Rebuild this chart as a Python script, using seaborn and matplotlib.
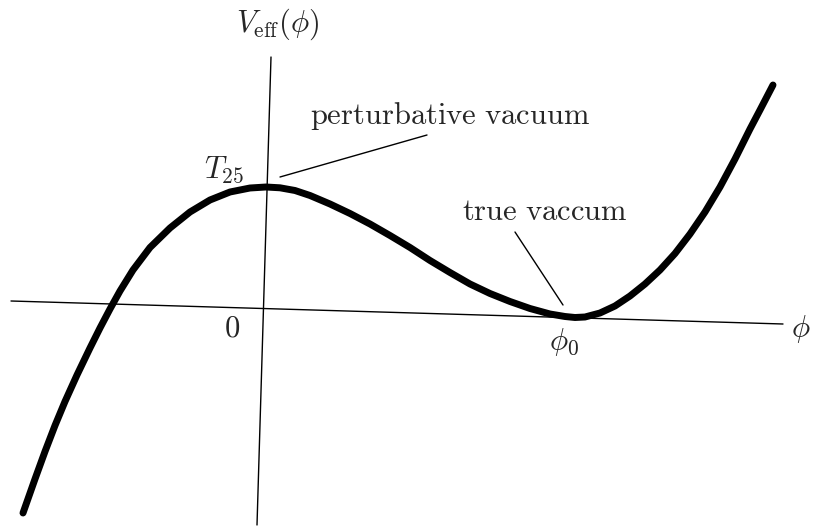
import matplotlib
matplotlib.use("Agg")
import matplotlib.pyplot as plt
import seaborn as sns
import pandas as pd

# Effective potential curve, sampled in the page frame (x right, y down)
phi = [23, 35, 45, 55, 65, 77, 90, 100, 110, 120, 133, 150, 170, 190, 210, 230,
       250, 266, 280, 295, 310, 330, 350, 370, 390, 410, 430, 450, 470, 490,
       510, 530, 550, 565, 575, 585, 600, 615, 630, 645, 660, 675, 690, 705,
       720, 735, 750, 760, 773]
v_eff = [513, 479, 451.5, 425.5, 401.5, 375, 348, 328, 309, 291, 270, 247.5, 228,
         212, 200, 192, 188, 187, 187.8, 190.5, 195.5, 204, 213.5, 224, 235.5,
         247.5, 260.5, 272.5, 284, 293.5, 301.5, 308.5, 314, 316.5, 317.5, 317,
         313, 306, 296, 284, 270, 253.5, 234, 212, 187, 159, 129, 110, 85]

# Coordinate axes (end points)
phi_axis_x = [11, 783]
phi_axis_y = [301, 324]
v_axis_x = [271, 257]
v_axis_y = [57, 525]

# Annotation leader lines
lead_pert_x = [280, 427]
lead_pert_y = [177, 135]
lead_true_x = [515, 563]
lead_true_y = [232, 305]

sns.set_style("white")
plt.rcParams["mathtext.fontset"] = "cm"

fig = plt.figure(figsize=(8.14, 5.26), dpi=100)
ax = fig.add_axes([0, 0, 1, 1])

ax.plot(phi_axis_x, phi_axis_y, color="black", lw=1.0)
ax.plot(v_axis_x, v_axis_y, color="black", lw=1.0)
ax.plot(lead_pert_x, lead_pert_y, color="black", lw=1.0)
ax.plot(lead_true_x, lead_true_y, color="black", lw=1.0)

curve = pd.DataFrame({"phi": phi, "V": v_eff})
sns.lineplot(data=curve, x="phi", y="V", sort=False, estimator=None,
             color="black", lw=5.0, ax=ax,
             solid_capstyle="round", solid_joinstyle="round")
ax.set_xlim(0, 814)
ax.set_ylim(526, 0)
ax.axis("off")

fs = 22
ax.text(278, 24, r"$V_{\mathrm{eff}}(\phi)$", ha="center", va="center", fontsize=fs)
ax.text(450, 116, r"$\mathrm{perturbative\ vacuum}$", ha="center", va="center", fontsize=fs)
ax.text(224, 170, r"$T_{25}$", ha="center", va="center", fontsize=fs)
ax.text(545, 212, r"$\mathrm{true\ vaccum}$", ha="center", va="center", fontsize=fs)
ax.text(232, 328, r"$0$", ha="center", va="center", fontsize=fs)
ax.text(564, 342, r"$\phi_0$", ha="center", va="center", fontsize=fs)
ax.text(791, 329, r"$\phi$", ha="left", va="center", fontsize=fs)

fig.savefig("out.png", dpi=100)
